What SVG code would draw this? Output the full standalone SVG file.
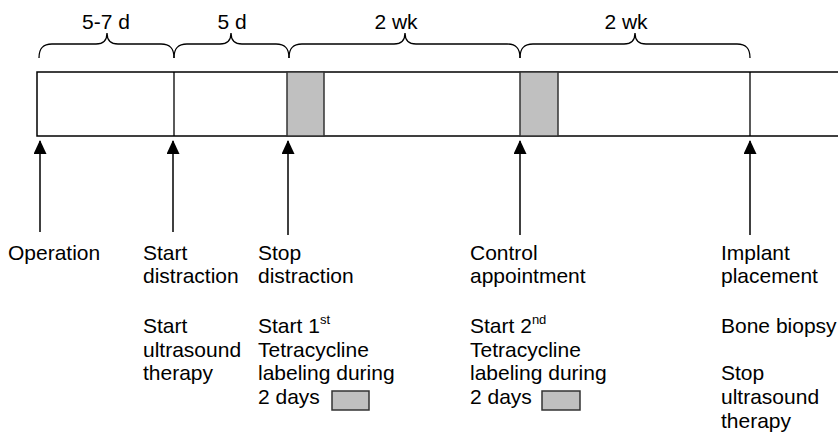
<svg xmlns="http://www.w3.org/2000/svg" width="838" height="434" viewBox="0 0 838 434">
<style>
text{font-family:"Liberation Sans",Arial,sans-serif;font-size:21px;fill:#000}
.brace{fill:none;stroke:#000;stroke-width:1.3}
.bar{fill:#fff;stroke:#000;stroke-width:1.5}
.div{stroke:#000;stroke-width:1.3}
.lab{fill:#c0c0c0;stroke:#333;stroke-width:1.5}
.arr{stroke:#000;stroke-width:1.5;fill:none;marker-end:url(#ah)}
.sup{font-size:13px}
</style>
<defs>
<marker id="ah" viewBox="0 0 14 13" refX="13" refY="6.5" markerWidth="14" markerHeight="13" markerUnits="userSpaceOnUse" orient="auto">
<path d="M0,0 L14,6.5 L0,13 Z" fill="#000"/>
</marker>
</defs>
<rect width="838" height="434" fill="#fff"/>
<g id="durations">
<path class="brace" d="M39,58 C39,48 43,44 52,44 L96,44 C103,44 107,40 107,33 C107,40 111,44 118,44 L161,44 C170,44 174,48 174,58"/>
<path class="brace" d="M174,58 C174,48 178,44 187,44 L220,44 C227,44 231,40 231,33 C231,40 235,44 242,44 L276,44 C285,44 289,48 289,58"/>
<path class="brace" d="M289,58 C289,48 293,44 302,44 L394,44 C401,44 405,40 405,33 C405,40 409,44 416,44 L507,44 C516,44 520,48 520,58"/>
<path class="brace" d="M520,58 C520,48 524,44 533,44 L624,44 C631,44 635,40 635,33 C635,40 639,44 646,44 L737,44 C746,44 750,48 750,58"/>
<text x="106" y="29" text-anchor="middle">5-7 d</text>
<text x="232" y="29" text-anchor="middle">5 d</text>
<text x="396" y="29" text-anchor="middle">2 wk</text>
<text x="626" y="29" text-anchor="middle">2 wk</text>
</g>
<g id="timeline">
<rect class="bar" x="37" y="72" width="810" height="64"/>
<line class="div" x1="174" y1="72" x2="174" y2="136"/>
<line class="div" x1="750" y1="72" x2="750" y2="136"/>
<rect class="lab" x="287" y="72" width="37" height="64"/>
<rect class="lab" x="520" y="72" width="38" height="64"/>
</g>
<g id="connectors">
<line class="arr" x1="40" y1="232" x2="40" y2="141"/>
<line class="arr" x1="173" y1="232" x2="173" y2="141"/>
<line class="arr" x1="288" y1="235" x2="288" y2="141"/>
<line class="arr" x1="520" y1="235" x2="520" y2="141"/>
<line class="arr" x1="750" y1="235" x2="750" y2="141"/>
</g>
<g id="operation">
<text x="8" y="260">Operation</text>
</g>
<g id="start-distraction">
<text x="143" y="260">Start</text>
<text x="143" y="283">distraction</text>
<text x="143" y="333">Start</text>
<text x="143" y="356.5">ultrasound</text>
<text x="143" y="380">therapy</text>
</g>
<g id="stop-distraction">
<text x="258" y="260">Stop</text>
<text x="258" y="283">distraction</text>
<text x="258" y="333">Start 1<tspan class="sup" dy="-9">st</tspan></text>
<text x="258" y="356.5">Tetracycline</text>
<text x="258" y="380">labeling during</text>
<text x="258" y="403.5">2 days</text>
<rect class="lab" x="332" y="391" width="37" height="19"/>
</g>
<g id="control-appointment">
<text x="470" y="260">Control</text>
<text x="470" y="283">appointment</text>
<text x="470" y="333">Start 2<tspan class="sup" dy="-9">nd</tspan></text>
<text x="470" y="356.5">Tetracycline</text>
<text x="470" y="380">labeling during</text>
<text x="470" y="403.5">2 days</text>
<rect class="lab" x="542" y="391" width="38" height="19"/>
</g>
<g id="implant-placement">
<text x="721" y="260">Implant</text>
<text x="721" y="283">placement</text>
<text x="721" y="333">Bone biopsy</text>
<text x="721" y="380">Stop</text>
<text x="721" y="404">ultrasound</text>
<text x="721" y="427.5">therapy</text>
</g>
</svg>
